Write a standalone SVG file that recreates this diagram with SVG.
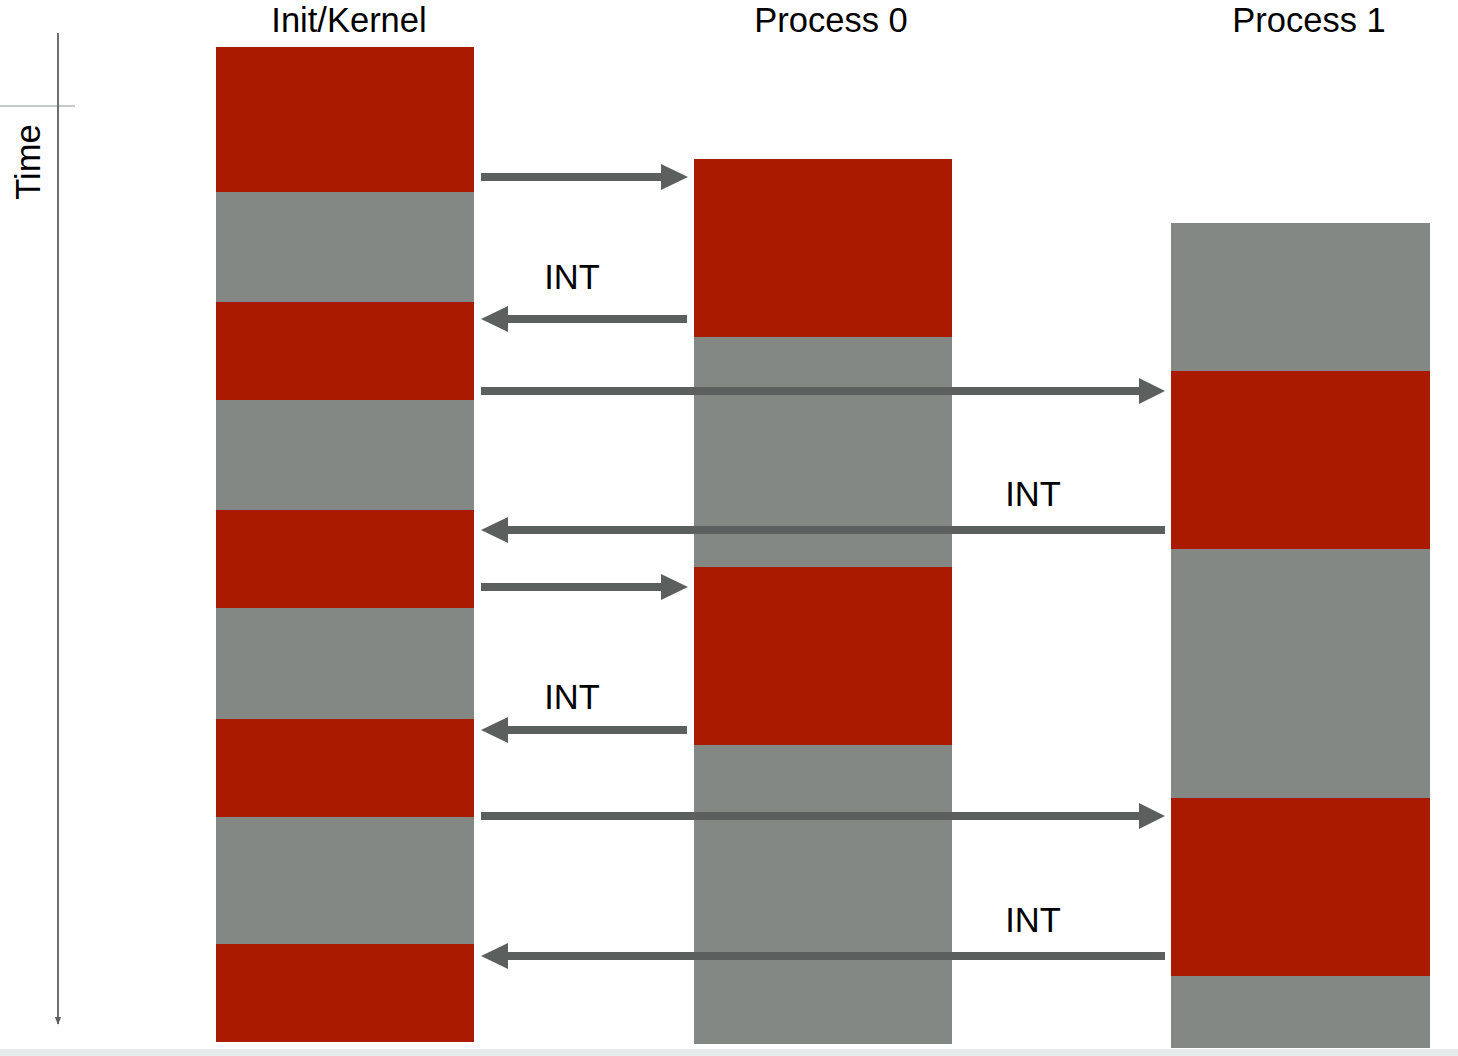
<svg xmlns="http://www.w3.org/2000/svg" width="1458" height="1056" viewBox="0 0 1458 1056">
<defs>
<style>
.r{fill:#aa1a00}
.g{fill:#838885}
.t{font-family:"Liberation Sans",Arial,sans-serif;font-size:34.5px;fill:#000}
.a{stroke:#5b605e;stroke-width:8;fill:none}
.h{fill:#5b605e}
</style>
<marker id="ax" viewBox="0 0 10 10" refX="9" refY="5" markerWidth="8" markerHeight="8" markerUnits="userSpaceOnUse" orient="auto"><path d="M0,1 L10,5 L0,9 z" fill="#5b605e"/></marker>
</defs>
<rect width="1458" height="1056" fill="#fff"/>
<rect x="0" y="1049" width="1458" height="7" fill="#e8ebeb"/>
<g id="time-axis">
<line x1="0" y1="106" x2="75" y2="106" stroke="#b5b9b8" stroke-width="1.5"/>
<line x1="58" y1="33" x2="58" y2="1024" stroke="#6b6f6e" stroke-width="2" marker-end="url(#ax)"/>
<text class="t" transform="translate(40,162) rotate(-90)" text-anchor="middle">Time</text>
</g>
<g id="init-kernel">
<text class="t" x="349" y="32" text-anchor="middle">Init/Kernel</text>
<rect class="r" x="216" y="47" width="258" height="145"/>
<rect class="g" x="216" y="192" width="258" height="110"/>
<rect class="r" x="216" y="302" width="258" height="98"/>
<rect class="g" x="216" y="400" width="258" height="110"/>
<rect class="r" x="216" y="510" width="258" height="98"/>
<rect class="g" x="216" y="608" width="258" height="111"/>
<rect class="r" x="216" y="719" width="258" height="98"/>
<rect class="g" x="216" y="817" width="258" height="127"/>
<rect class="r" x="216" y="944" width="258" height="98"/>
</g>
<g id="process-0">
<text class="t" x="831" y="32" text-anchor="middle">Process 0</text>
<rect class="r" x="694" y="159" width="258" height="178"/>
<rect class="g" x="694" y="337" width="258" height="230"/>
<rect class="r" x="694" y="567" width="258" height="178"/>
<rect class="g" x="694" y="745" width="258" height="299"/>
</g>
<g id="process-1">
<text class="t" x="1309" y="32" text-anchor="middle">Process 1</text>
<rect class="g" x="1171" y="223" width="259" height="148"/>
<rect class="r" x="1171" y="371" width="259" height="178"/>
<rect class="g" x="1171" y="549" width="259" height="249"/>
<rect class="r" x="1171" y="798" width="259" height="178"/>
<rect class="g" x="1171" y="976" width="259" height="72"/>
</g>
<g id="connectors">
<line class="a" x1="481" y1="177" x2="662" y2="177"/><path class="h" d="M661,164 L688,177 L661,190 z"/>
<line class="a" x1="507" y1="319" x2="687" y2="319"/><path class="h" d="M508,306 L481,319 L508,332 z"/>
<text class="t" x="572" y="289" text-anchor="middle">INT</text>
<line class="a" x1="481" y1="391" x2="1140" y2="391"/><path class="h" d="M1139,378 L1165,391 L1139,404 z"/>
<line class="a" x1="507" y1="530" x2="1165" y2="530"/><path class="h" d="M508,517 L481,530 L508,543 z"/>
<text class="t" x="1033" y="506" text-anchor="middle">INT</text>
<line class="a" x1="481" y1="587" x2="662" y2="587"/><path class="h" d="M661,574 L688,587 L661,600 z"/>
<line class="a" x1="507" y1="730" x2="687" y2="730"/><path class="h" d="M508,717 L481,730 L508,743 z"/>
<text class="t" x="572" y="709" text-anchor="middle">INT</text>
<line class="a" x1="481" y1="816" x2="1140" y2="816"/><path class="h" d="M1139,803 L1165,816 L1139,829 z"/>
<line class="a" x1="507" y1="956" x2="1165" y2="956"/><path class="h" d="M508,943 L481,956 L508,969 z"/>
<text class="t" x="1033" y="932" text-anchor="middle">INT</text>
</g>
</svg>
